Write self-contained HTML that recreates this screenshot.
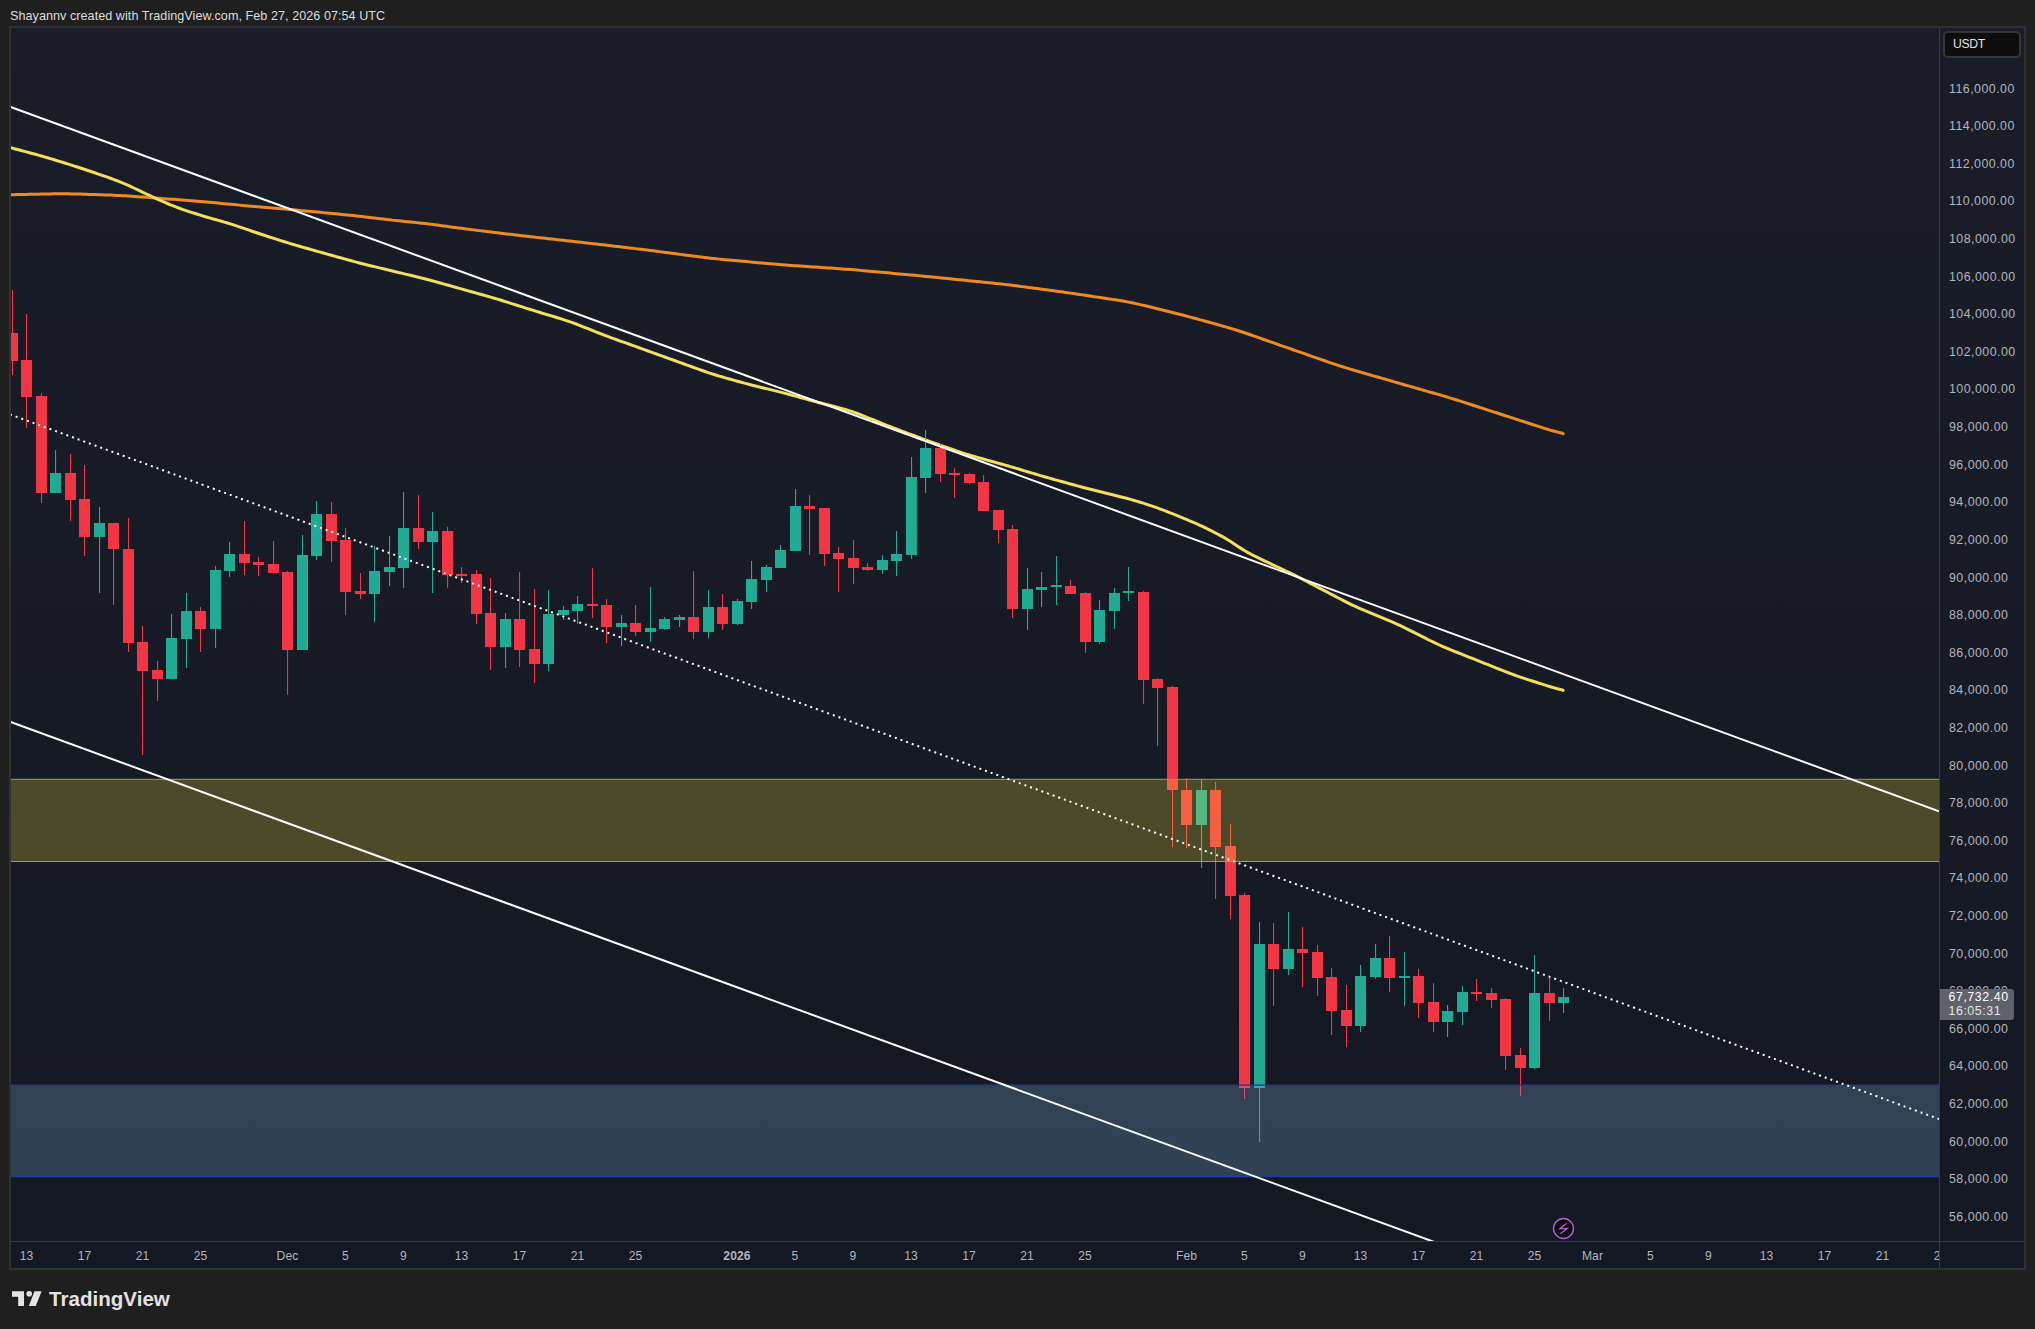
<!DOCTYPE html>
<html><head><meta charset="utf-8">
<style>
html,body{margin:0;padding:0;}
body{width:2035px;height:1329px;background:#1f1f1f;position:relative;overflow:hidden;font-family:"Liberation Sans",sans-serif;}
.hdr{position:absolute;left:10px;top:8px;font-size:12.6px;line-height:16px;color:#dcdcdc;white-space:nowrap;letter-spacing:0.05px;}
.pl{position:absolute;left:1949px;width:70px;height:16px;line-height:16px;font-size:12.4px;color:#b2b5be;white-space:nowrap;letter-spacing:0.47px;}
.tlw{position:absolute;left:0;top:0;width:1939px;height:1329px;overflow:hidden;}
.tl{position:absolute;top:1248px;width:80px;text-align:center;height:16px;line-height:16px;font-size:12.1px;color:#b2b5be;letter-spacing:0.1px;}
.tl.b{font-weight:bold;}
.usdt{position:absolute;left:1943px;top:30.5px;width:78px;height:27px;border:2px solid #34363a;border-radius:5px;background:#0d0d0d;box-sizing:border-box;}
.usdt span{position:absolute;left:8px;top:4.5px;font-size:12.2px;line-height:14px;color:#e4e4e4;letter-spacing:-0.3px;}
.lastp{position:absolute;left:1940px;top:989px;width:74px;height:31px;background:#5f616b;border-radius:0 3px 3px 0;}
.lastp div{position:absolute;left:8.5px;font-size:12.4px;line-height:14px;letter-spacing:0.55px;white-space:nowrap;}
.logo{position:absolute;left:11px;top:1288px;}
.logotxt{position:absolute;left:49px;top:1286px;font-size:20.5px;line-height:26px;font-weight:bold;color:#e3e3e3;letter-spacing:0.04px;}
</style></head>
<body>
<div class="hdr">Shayannv created with TradingView.com, Feb 27, 2026 07:54 UTC</div>
<svg width="2035" height="1329" viewBox="0 0 2035 1329" style="position:absolute;left:0;top:0">
<defs><linearGradient id="bg" x1="0" y1="0" x2="0" y2="1"><stop offset="0" stop-color="#1a1d27"/><stop offset="1" stop-color="#141822"/></linearGradient><clipPath id="pane"><rect x="11" y="28" width="1928.0" height="1213.0"/></clipPath></defs>
<rect x="9" y="26" width="2017" height="1244" fill="#2f3034"/>
<rect x="11" y="28" width="2013" height="1240" fill="url(#bg)"/>
<rect x="1939" y="28" width="1" height="1240" fill="#363a45"/>
<rect x="11" y="1241" width="2013" height="1" fill="#363a45"/>
<g clip-path="url(#pane)">
<path d="M11.4,194.70 L14.4,194.64 L17.4,194.58 L20.4,194.52 L23.4,194.45 L26.4,194.39 L29.4,194.33 L32.4,194.27 L35.4,194.21 L38.4,194.15 L41.4,194.09 L44.4,194.03 L47.4,193.97 L50.4,193.92 L53.4,193.87 L56.4,193.83 L59.4,193.81 L62.4,193.80 L65.4,193.81 L68.4,193.84 L71.4,193.89 L74.4,193.96 L77.4,194.03 L80.4,194.12 L83.4,194.21 L86.4,194.30 L89.4,194.40 L92.4,194.50 L95.4,194.60 L98.4,194.70 L101.4,194.80 L104.4,194.90 L107.4,195.01 L110.4,195.12 L113.4,195.24 L116.4,195.38 L119.4,195.53 L122.4,195.69 L125.4,195.86 L128.4,196.05 L131.4,196.25 L134.4,196.46 L137.4,196.67 L140.4,196.89 L143.4,197.11 L146.4,197.33 L149.4,197.55 L152.4,197.77 L155.4,198.00 L158.4,198.23 L161.4,198.45 L164.4,198.68 L167.4,198.91 L170.4,199.13 L173.4,199.36 L176.4,199.58 L179.4,199.81 L182.4,200.03 L185.4,200.25 L188.4,200.48 L191.4,200.70 L194.4,200.94 L197.4,201.18 L200.4,201.43 L203.4,201.69 L206.4,201.96 L209.4,202.23 L212.4,202.52 L215.4,202.81 L218.4,203.11 L221.4,203.41 L224.4,203.70 L227.4,203.99 L230.4,204.28 L233.4,204.57 L236.4,204.85 L239.4,205.13 L242.4,205.41 L245.4,205.68 L248.4,205.95 L251.4,206.22 L254.4,206.48 L257.4,206.75 L260.4,207.01 L263.4,207.26 L266.4,207.52 L269.4,207.77 L272.4,208.03 L275.4,208.28 L278.4,208.54 L281.4,208.79 L284.4,209.05 L287.4,209.31 L290.4,209.57 L293.4,209.84 L296.4,210.11 L299.4,210.38 L302.4,210.66 L305.4,210.94 L308.4,211.21 L311.4,211.49 L314.4,211.77 L317.4,212.06 L320.4,212.34 L323.4,212.63 L326.4,212.92 L329.4,213.21 L332.4,213.50 L335.4,213.79 L338.4,214.09 L341.4,214.39 L344.4,214.68 L347.4,214.99 L350.4,215.30 L353.4,215.61 L356.4,215.93 L359.4,216.26 L362.4,216.60 L365.4,216.94 L368.4,217.29 L371.4,217.65 L374.4,218.01 L377.4,218.37 L380.4,218.73 L383.4,219.08 L386.4,219.44 L389.4,219.78 L392.4,220.12 L395.4,220.45 L398.4,220.77 L401.4,221.08 L404.4,221.39 L407.4,221.70 L410.4,222.00 L413.4,222.31 L416.4,222.62 L419.4,222.94 L422.4,223.26 L425.4,223.60 L428.4,223.96 L431.4,224.33 L434.4,224.71 L437.4,225.10 L440.4,225.50 L443.4,225.91 L446.4,226.32 L449.4,226.74 L452.4,227.15 L455.4,227.55 L458.4,227.96 L461.4,228.35 L464.4,228.74 L467.4,229.13 L470.4,229.51 L473.4,229.88 L476.4,230.25 L479.4,230.62 L482.4,230.99 L485.4,231.35 L488.4,231.72 L491.4,232.08 L494.4,232.45 L497.4,232.81 L500.4,233.17 L503.4,233.53 L506.4,233.89 L509.4,234.25 L512.4,234.60 L515.4,234.96 L518.4,235.32 L521.4,235.67 L524.4,236.02 L527.4,236.36 L530.4,236.71 L533.4,237.04 L536.4,237.38 L539.4,237.71 L542.4,238.04 L545.4,238.36 L548.4,238.68 L551.4,239.01 L554.4,239.33 L557.4,239.65 L560.4,239.98 L563.4,240.31 L566.4,240.64 L569.4,240.97 L572.4,241.30 L575.4,241.64 L578.4,241.99 L581.4,242.33 L584.4,242.67 L587.4,243.02 L590.4,243.37 L593.4,243.72 L596.4,244.06 L599.4,244.41 L602.4,244.76 L605.4,245.11 L608.4,245.46 L611.4,245.81 L614.4,246.15 L617.4,246.50 L620.4,246.85 L623.4,247.20 L626.4,247.55 L629.4,247.90 L632.4,248.26 L635.4,248.62 L638.4,248.98 L641.4,249.34 L644.4,249.72 L647.4,250.09 L650.4,250.47 L653.4,250.86 L656.4,251.24 L659.4,251.63 L662.4,252.02 L665.4,252.41 L668.4,252.80 L671.4,253.19 L674.4,253.59 L677.4,253.98 L680.4,254.37 L683.4,254.76 L686.4,255.15 L689.4,255.54 L692.4,255.93 L695.4,256.31 L698.4,256.70 L701.4,257.08 L704.4,257.45 L707.4,257.81 L710.4,258.16 L713.4,258.49 L716.4,258.81 L719.4,259.12 L722.4,259.41 L725.4,259.70 L728.4,259.98 L731.4,260.25 L734.4,260.52 L737.4,260.79 L740.4,261.06 L743.4,261.33 L746.4,261.60 L749.4,261.87 L752.4,262.14 L755.4,262.40 L758.4,262.67 L761.4,262.94 L764.4,263.21 L767.4,263.47 L770.4,263.74 L773.4,264.00 L776.4,264.26 L779.4,264.51 L782.4,264.75 L785.4,264.99 L788.4,265.22 L791.4,265.44 L794.4,265.65 L797.4,265.86 L800.4,266.07 L803.4,266.27 L806.4,266.47 L809.4,266.68 L812.4,266.88 L815.4,267.08 L818.4,267.28 L821.4,267.48 L824.4,267.68 L827.4,267.89 L830.4,268.09 L833.4,268.29 L836.4,268.50 L839.4,268.71 L842.4,268.92 L845.4,269.14 L848.4,269.37 L851.4,269.61 L854.4,269.86 L857.4,270.11 L860.4,270.38 L863.4,270.64 L866.4,270.91 L869.4,271.19 L872.4,271.46 L875.4,271.74 L878.4,272.01 L881.4,272.29 L884.4,272.56 L887.4,272.84 L890.4,273.11 L893.4,273.39 L896.4,273.67 L899.4,273.94 L902.4,274.22 L905.4,274.49 L908.4,274.77 L911.4,275.05 L914.4,275.33 L917.4,275.60 L920.4,275.88 L923.4,276.17 L926.4,276.45 L929.4,276.74 L932.4,277.03 L935.4,277.33 L938.4,277.63 L941.4,277.93 L944.4,278.23 L947.4,278.53 L950.4,278.83 L953.4,279.14 L956.4,279.44 L959.4,279.74 L962.4,280.04 L965.4,280.35 L968.4,280.65 L971.4,280.95 L974.4,281.26 L977.4,281.56 L980.4,281.86 L983.4,282.17 L986.4,282.47 L989.4,282.78 L992.4,283.09 L995.4,283.40 L998.4,283.72 L1001.4,284.05 L1004.4,284.38 L1007.4,284.73 L1010.4,285.09 L1013.4,285.46 L1016.4,285.84 L1019.4,286.23 L1022.4,286.62 L1025.4,287.01 L1028.4,287.41 L1031.4,287.81 L1034.4,288.21 L1037.4,288.61 L1040.4,289.00 L1043.4,289.40 L1046.4,289.80 L1049.4,290.20 L1052.4,290.61 L1055.4,291.01 L1058.4,291.42 L1061.4,291.83 L1064.4,292.25 L1067.4,292.68 L1070.4,293.11 L1073.4,293.55 L1076.4,293.99 L1079.4,294.43 L1082.4,294.88 L1085.4,295.33 L1088.4,295.77 L1091.4,296.22 L1094.4,296.67 L1097.4,297.12 L1100.4,297.57 L1103.4,298.02 L1106.4,298.47 L1109.4,298.92 L1112.4,299.38 L1115.4,299.84 L1118.4,300.32 L1121.4,300.82 L1124.4,301.33 L1127.4,301.88 L1130.4,302.46 L1133.4,303.08 L1136.4,303.73 L1139.4,304.41 L1142.4,305.11 L1145.4,305.82 L1148.4,306.55 L1151.4,307.28 L1154.4,308.02 L1157.4,308.76 L1160.4,309.50 L1163.4,310.24 L1166.4,310.99 L1169.4,311.73 L1172.4,312.48 L1175.4,313.24 L1178.4,314.00 L1181.4,314.78 L1184.4,315.56 L1187.4,316.35 L1190.4,317.15 L1193.4,317.96 L1196.4,318.78 L1199.4,319.60 L1202.4,320.42 L1205.4,321.25 L1208.4,322.07 L1211.4,322.90 L1214.4,323.73 L1217.4,324.56 L1220.4,325.39 L1223.4,326.24 L1226.4,327.10 L1229.4,327.97 L1232.4,328.87 L1235.4,329.80 L1238.4,330.75 L1241.4,331.73 L1244.4,332.73 L1247.4,333.75 L1250.4,334.79 L1253.4,335.83 L1256.4,336.88 L1259.4,337.93 L1262.4,338.98 L1265.4,340.03 L1268.4,341.08 L1271.4,342.14 L1274.4,343.19 L1277.4,344.24 L1280.4,345.30 L1283.4,346.35 L1286.4,347.40 L1289.4,348.45 L1292.4,349.50 L1295.4,350.55 L1298.4,351.60 L1301.4,352.65 L1304.4,353.70 L1307.4,354.75 L1310.4,355.80 L1313.4,356.85 L1316.4,357.90 L1319.4,358.95 L1322.4,359.99 L1325.4,361.03 L1328.4,362.07 L1331.4,363.09 L1334.4,364.10 L1337.4,365.09 L1340.4,366.06 L1343.4,367.01 L1346.4,367.94 L1349.4,368.84 L1352.4,369.74 L1355.4,370.62 L1358.4,371.50 L1361.4,372.37 L1364.4,373.23 L1367.4,374.10 L1370.4,374.96 L1373.4,375.83 L1376.4,376.69 L1379.4,377.56 L1382.4,378.42 L1385.4,379.29 L1388.4,380.15 L1391.4,381.02 L1394.4,381.88 L1397.4,382.74 L1400.4,383.60 L1403.4,384.46 L1406.4,385.32 L1409.4,386.18 L1412.4,387.04 L1415.4,387.90 L1418.4,388.76 L1421.4,389.61 L1424.4,390.47 L1427.4,391.33 L1430.4,392.19 L1433.4,393.05 L1436.4,393.91 L1439.4,394.78 L1442.4,395.65 L1445.4,396.54 L1448.4,397.43 L1451.4,398.34 L1454.4,399.27 L1457.4,400.20 L1460.4,401.15 L1463.4,402.11 L1466.4,403.07 L1469.4,404.04 L1472.4,405.01 L1475.4,405.98 L1478.4,406.95 L1481.4,407.92 L1484.4,408.90 L1487.4,409.87 L1490.4,410.84 L1493.4,411.81 L1496.4,412.79 L1499.4,413.76 L1502.4,414.73 L1505.4,415.70 L1508.4,416.68 L1511.4,417.65 L1514.4,418.62 L1517.4,419.59 L1520.4,420.56 L1523.4,421.54 L1526.4,422.51 L1529.4,423.48 L1532.4,424.45 L1535.4,425.42 L1538.4,426.39 L1541.4,427.35 L1544.4,428.31 L1547.4,429.24 L1550.4,430.15 L1553.4,431.01 L1556.4,431.82 L1559.4,432.55 L1562.4,433.19 L1563.1,433.75" fill="none" stroke="#ee8a22" stroke-width="3" stroke-linejoin="round" stroke-linecap="round"/>
<path d="M11.4,147.90 L14.4,148.69 L17.4,149.49 L20.4,150.28 L23.4,151.08 L26.4,151.88 L29.4,152.68 L32.4,153.49 L35.4,154.32 L38.4,155.16 L41.4,156.02 L44.4,156.89 L47.4,157.77 L50.4,158.66 L53.4,159.55 L56.4,160.45 L59.4,161.36 L62.4,162.28 L65.4,163.21 L68.4,164.16 L71.4,165.11 L74.4,166.08 L77.4,167.05 L80.4,168.03 L83.4,169.01 L86.4,170.00 L89.4,171.00 L92.4,172.01 L95.4,173.03 L98.4,174.06 L101.4,175.10 L104.4,176.15 L107.4,177.21 L110.4,178.28 L113.4,179.38 L116.4,180.51 L119.4,181.68 L122.4,182.90 L125.4,184.17 L128.4,185.49 L131.4,186.85 L134.4,188.25 L137.4,189.67 L140.4,191.11 L143.4,192.55 L146.4,193.98 L149.4,195.40 L152.4,196.80 L155.4,198.18 L158.4,199.55 L161.4,200.89 L164.4,202.21 L167.4,203.50 L170.4,204.76 L173.4,205.97 L176.4,207.13 L179.4,208.23 L182.4,209.30 L185.4,210.33 L188.4,211.33 L191.4,212.31 L194.4,213.28 L197.4,214.23 L200.4,215.17 L203.4,216.08 L206.4,216.97 L209.4,217.84 L212.4,218.69 L215.4,219.54 L218.4,220.38 L221.4,221.23 L224.4,222.10 L227.4,223.00 L230.4,223.92 L233.4,224.88 L236.4,225.86 L239.4,226.87 L242.4,227.89 L245.4,228.92 L248.4,229.95 L251.4,230.98 L254.4,232.01 L257.4,233.02 L260.4,234.02 L263.4,235.01 L266.4,235.99 L269.4,236.96 L272.4,237.93 L275.4,238.89 L278.4,239.85 L281.4,240.81 L284.4,241.75 L287.4,242.68 L290.4,243.59 L293.4,244.49 L296.4,245.37 L299.4,246.23 L302.4,247.09 L305.4,247.94 L308.4,248.79 L311.4,249.63 L314.4,250.48 L317.4,251.32 L320.4,252.17 L323.4,253.01 L326.4,253.85 L329.4,254.69 L332.4,255.53 L335.4,256.37 L338.4,257.21 L341.4,258.04 L344.4,258.88 L347.4,259.71 L350.4,260.53 L353.4,261.35 L356.4,262.15 L359.4,262.94 L362.4,263.70 L365.4,264.46 L368.4,265.20 L371.4,265.93 L374.4,266.66 L377.4,267.39 L380.4,268.11 L383.4,268.83 L386.4,269.56 L389.4,270.28 L392.4,271.00 L395.4,271.72 L398.4,272.44 L401.4,273.15 L404.4,273.87 L407.4,274.59 L410.4,275.30 L413.4,276.02 L416.4,276.74 L419.4,277.47 L422.4,278.21 L425.4,278.97 L428.4,279.75 L431.4,280.54 L434.4,281.36 L437.4,282.18 L440.4,283.02 L443.4,283.86 L446.4,284.70 L449.4,285.55 L452.4,286.39 L455.4,287.24 L458.4,288.08 L461.4,288.92 L464.4,289.76 L467.4,290.60 L470.4,291.44 L473.4,292.28 L476.4,293.12 L479.4,293.96 L482.4,294.80 L485.4,295.64 L488.4,296.49 L491.4,297.36 L494.4,298.24 L497.4,299.13 L500.4,300.04 L503.4,300.97 L506.4,301.91 L509.4,302.86 L512.4,303.82 L515.4,304.78 L518.4,305.73 L521.4,306.69 L524.4,307.64 L527.4,308.58 L530.4,309.52 L533.4,310.44 L536.4,311.36 L539.4,312.28 L542.4,313.19 L545.4,314.09 L548.4,315.00 L551.4,315.90 L554.4,316.81 L557.4,317.73 L560.4,318.65 L563.4,319.60 L566.4,320.59 L569.4,321.61 L572.4,322.67 L575.4,323.78 L578.4,324.92 L581.4,326.09 L584.4,327.28 L587.4,328.47 L590.4,329.67 L593.4,330.86 L596.4,332.05 L599.4,333.23 L602.4,334.40 L605.4,335.55 L608.4,336.68 L611.4,337.79 L614.4,338.89 L617.4,339.97 L620.4,341.05 L623.4,342.13 L626.4,343.20 L629.4,344.27 L632.4,345.35 L635.4,346.42 L638.4,347.50 L641.4,348.58 L644.4,349.66 L647.4,350.74 L650.4,351.82 L653.4,352.90 L656.4,353.98 L659.4,355.07 L662.4,356.15 L665.4,357.24 L668.4,358.32 L671.4,359.40 L674.4,360.49 L677.4,361.57 L680.4,362.66 L683.4,363.74 L686.4,364.82 L689.4,365.91 L692.4,366.99 L695.4,368.07 L698.4,369.15 L701.4,370.22 L704.4,371.28 L707.4,372.32 L710.4,373.33 L713.4,374.30 L716.4,375.24 L719.4,376.14 L722.4,377.02 L725.4,377.88 L728.4,378.72 L731.4,379.56 L734.4,380.40 L737.4,381.23 L740.4,382.06 L743.4,382.87 L746.4,383.67 L749.4,384.46 L752.4,385.23 L755.4,385.98 L758.4,386.72 L761.4,387.45 L764.4,388.18 L767.4,388.91 L770.4,389.63 L773.4,390.36 L776.4,391.10 L779.4,391.85 L782.4,392.61 L785.4,393.39 L788.4,394.18 L791.4,394.99 L794.4,395.82 L797.4,396.65 L800.4,397.48 L803.4,398.32 L806.4,399.16 L809.4,399.99 L812.4,400.82 L815.4,401.64 L818.4,402.44 L821.4,403.24 L824.4,404.02 L827.4,404.78 L830.4,405.54 L833.4,406.30 L836.4,407.06 L839.4,407.83 L842.4,408.64 L845.4,409.49 L848.4,410.40 L851.4,411.38 L854.4,412.42 L857.4,413.53 L860.4,414.69 L863.4,415.87 L866.4,417.08 L869.4,418.29 L872.4,419.51 L875.4,420.72 L878.4,421.94 L881.4,423.15 L884.4,424.34 L887.4,425.53 L890.4,426.71 L893.4,427.86 L896.4,429.01 L899.4,430.15 L902.4,431.28 L905.4,432.41 L908.4,433.54 L911.4,434.66 L914.4,435.78 L917.4,436.90 L920.4,438.02 L923.4,439.13 L926.4,440.23 L929.4,441.32 L932.4,442.40 L935.4,443.47 L938.4,444.53 L941.4,445.59 L944.4,446.64 L947.4,447.69 L950.4,448.74 L953.4,449.78 L956.4,450.82 L959.4,451.85 L962.4,452.85 L965.4,453.82 L968.4,454.76 L971.4,455.67 L974.4,456.55 L977.4,457.41 L980.4,458.24 L983.4,459.07 L986.4,459.90 L989.4,460.72 L992.4,461.54 L995.4,462.37 L998.4,463.20 L1001.4,464.04 L1004.4,464.89 L1007.4,465.75 L1010.4,466.62 L1013.4,467.50 L1016.4,468.39 L1019.4,469.29 L1022.4,470.19 L1025.4,471.09 L1028.4,471.99 L1031.4,472.89 L1034.4,473.79 L1037.4,474.68 L1040.4,475.57 L1043.4,476.45 L1046.4,477.31 L1049.4,478.17 L1052.4,479.01 L1055.4,479.84 L1058.4,480.67 L1061.4,481.49 L1064.4,482.32 L1067.4,483.14 L1070.4,483.96 L1073.4,484.77 L1076.4,485.58 L1079.4,486.39 L1082.4,487.18 L1085.4,487.97 L1088.4,488.74 L1091.4,489.50 L1094.4,490.25 L1097.4,490.99 L1100.4,491.73 L1103.4,492.47 L1106.4,493.20 L1109.4,493.94 L1112.4,494.68 L1115.4,495.42 L1118.4,496.17 L1121.4,496.93 L1124.4,497.70 L1127.4,498.50 L1130.4,499.33 L1133.4,500.20 L1136.4,501.09 L1139.4,502.00 L1142.4,502.94 L1145.4,503.89 L1148.4,504.87 L1151.4,505.87 L1154.4,506.90 L1157.4,507.96 L1160.4,509.07 L1163.4,510.20 L1166.4,511.36 L1169.4,512.54 L1172.4,513.73 L1175.4,514.92 L1178.4,516.12 L1181.4,517.33 L1184.4,518.54 L1187.4,519.77 L1190.4,521.03 L1193.4,522.32 L1196.4,523.66 L1199.4,525.04 L1202.4,526.47 L1205.4,527.93 L1208.4,529.41 L1211.4,530.91 L1214.4,532.43 L1217.4,533.97 L1220.4,535.55 L1223.4,537.19 L1226.4,538.91 L1229.4,540.74 L1232.4,542.66 L1235.4,544.65 L1238.4,546.66 L1241.4,548.62 L1244.4,550.49 L1247.4,552.26 L1250.4,553.91 L1253.4,555.46 L1256.4,556.96 L1259.4,558.42 L1262.4,559.85 L1265.4,561.28 L1268.4,562.71 L1271.4,564.13 L1274.4,565.55 L1277.4,566.98 L1280.4,568.40 L1283.4,569.83 L1286.4,571.27 L1289.4,572.71 L1292.4,574.18 L1295.4,575.66 L1298.4,577.16 L1301.4,578.68 L1304.4,580.23 L1307.4,581.78 L1310.4,583.34 L1313.4,584.91 L1316.4,586.48 L1319.4,588.05 L1322.4,589.62 L1325.4,591.19 L1328.4,592.76 L1331.4,594.32 L1334.4,595.89 L1337.4,597.46 L1340.4,599.02 L1343.4,600.57 L1346.4,602.09 L1349.4,603.59 L1352.4,605.04 L1355.4,606.45 L1358.4,607.81 L1361.4,609.12 L1364.4,610.41 L1367.4,611.68 L1370.4,612.93 L1373.4,614.18 L1376.4,615.42 L1379.4,616.67 L1382.4,617.91 L1385.4,619.16 L1388.4,620.42 L1391.4,621.69 L1394.4,622.99 L1397.4,624.32 L1400.4,625.70 L1403.4,627.12 L1406.4,628.58 L1409.4,630.07 L1412.4,631.58 L1415.4,633.11 L1418.4,634.64 L1421.4,636.17 L1424.4,637.70 L1427.4,639.22 L1430.4,640.72 L1433.4,642.19 L1436.4,643.61 L1439.4,644.99 L1442.4,646.32 L1445.4,647.60 L1448.4,648.85 L1451.4,650.07 L1454.4,651.28 L1457.4,652.49 L1460.4,653.69 L1463.4,654.89 L1466.4,656.08 L1469.4,657.28 L1472.4,658.48 L1475.4,659.68 L1478.4,660.87 L1481.4,662.07 L1484.4,663.27 L1487.4,664.46 L1490.4,665.66 L1493.4,666.85 L1496.4,668.05 L1499.4,669.24 L1502.4,670.43 L1505.4,671.60 L1508.4,672.76 L1511.4,673.90 L1514.4,675.00 L1517.4,676.07 L1520.4,677.11 L1523.4,678.11 L1526.4,679.10 L1529.4,680.08 L1532.4,681.05 L1535.4,682.01 L1538.4,682.97 L1541.4,683.94 L1544.4,684.89 L1547.4,685.84 L1550.4,686.77 L1553.4,687.67 L1556.4,688.50 L1559.4,689.25 L1562.4,689.90 L1563.1,690.44" fill="none" stroke="#f2df5e" stroke-width="3" stroke-linejoin="round" stroke-linecap="round"/>
<rect x="12" y="290.0" width="1.1" height="43.0" fill="#f23645"/>
<rect x="12" y="361.0" width="1.1" height="14.0" fill="#f23645"/>
<rect x="7" y="333.0" width="11" height="28.0" fill="#f23645"/>
<rect x="26" y="314.0" width="1.1" height="46.0" fill="#f23645"/>
<rect x="26" y="397.0" width="1.1" height="31.0" fill="#f23645"/>
<rect x="21" y="360.0" width="11" height="37.0" fill="#f23645"/>
<rect x="41" y="393.0" width="1.1" height="3.0" fill="#f23645"/>
<rect x="41" y="493.0" width="1.1" height="10.0" fill="#f23645"/>
<rect x="36" y="396.0" width="11" height="97.0" fill="#f23645"/>
<rect x="55" y="450.0" width="1.1" height="23.0" fill="#22ab94"/>
<rect x="50" y="473.0" width="11" height="20.0" fill="#22ab94"/>
<rect x="70" y="454.0" width="1.1" height="19.0" fill="#f23645"/>
<rect x="70" y="500.0" width="1.1" height="21.0" fill="#f23645"/>
<rect x="65" y="473.0" width="11" height="27.0" fill="#f23645"/>
<rect x="84" y="465.0" width="1.1" height="34.0" fill="#f23645"/>
<rect x="84" y="537.0" width="1.1" height="19.0" fill="#f23645"/>
<rect x="79" y="499.0" width="11" height="38.0" fill="#f23645"/>
<rect x="99" y="507.0" width="1.1" height="16.0" fill="#22ab94"/>
<rect x="99" y="537.0" width="1.1" height="56.0" fill="#22ab94"/>
<rect x="94" y="523.0" width="11" height="14.0" fill="#22ab94"/>
<rect x="113" y="549.0" width="1.1" height="56.0" fill="#f23645"/>
<rect x="108" y="523.0" width="11" height="26.0" fill="#f23645"/>
<rect x="128" y="518.0" width="1.1" height="31.0" fill="#f23645"/>
<rect x="128" y="643.0" width="1.1" height="9.0" fill="#f23645"/>
<rect x="123" y="549.0" width="11" height="94.0" fill="#f23645"/>
<rect x="142" y="626.0" width="1.1" height="16.0" fill="#f23645"/>
<rect x="142" y="671.0" width="1.1" height="84.0" fill="#f23645"/>
<rect x="137" y="642.0" width="11" height="29.0" fill="#f23645"/>
<rect x="157" y="661.0" width="1.1" height="9.0" fill="#f23645"/>
<rect x="157" y="679.0" width="1.1" height="22.0" fill="#f23645"/>
<rect x="152" y="670.0" width="11" height="9.0" fill="#f23645"/>
<rect x="171" y="614.0" width="1.1" height="24.0" fill="#22ab94"/>
<rect x="166" y="638.0" width="11" height="41.0" fill="#22ab94"/>
<rect x="186" y="593.0" width="1.1" height="18.0" fill="#22ab94"/>
<rect x="186" y="639.0" width="1.1" height="29.0" fill="#22ab94"/>
<rect x="181" y="611.0" width="11" height="28.0" fill="#22ab94"/>
<rect x="200" y="607.0" width="1.1" height="4.0" fill="#f23645"/>
<rect x="200" y="629.0" width="1.1" height="23.0" fill="#f23645"/>
<rect x="195" y="611.0" width="11" height="18.0" fill="#f23645"/>
<rect x="215" y="566.0" width="1.1" height="4.0" fill="#22ab94"/>
<rect x="215" y="629.0" width="1.1" height="19.0" fill="#22ab94"/>
<rect x="210" y="570.0" width="11" height="59.0" fill="#22ab94"/>
<rect x="229" y="542.0" width="1.1" height="12.0" fill="#22ab94"/>
<rect x="229" y="571.0" width="1.1" height="6.0" fill="#22ab94"/>
<rect x="224" y="554.0" width="11" height="17.0" fill="#22ab94"/>
<rect x="244" y="521.0" width="1.1" height="33.0" fill="#f23645"/>
<rect x="244" y="563.0" width="1.1" height="12.0" fill="#f23645"/>
<rect x="239" y="554.0" width="11" height="9.0" fill="#f23645"/>
<rect x="258" y="557.0" width="1.1" height="5.0" fill="#f23645"/>
<rect x="258" y="565.0" width="1.1" height="11.0" fill="#f23645"/>
<rect x="253" y="562.0" width="11" height="3.0" fill="#f23645"/>
<rect x="273" y="541.0" width="1.1" height="23.0" fill="#f23645"/>
<rect x="268" y="564.0" width="11" height="9.0" fill="#f23645"/>
<rect x="287" y="571.0" width="1.1" height="1.0" fill="#f23645"/>
<rect x="287" y="650.0" width="1.1" height="45.0" fill="#f23645"/>
<rect x="282" y="572.0" width="11" height="78.0" fill="#f23645"/>
<rect x="302" y="535.0" width="1.1" height="20.0" fill="#22ab94"/>
<rect x="297" y="555.0" width="11" height="95.0" fill="#22ab94"/>
<rect x="316" y="501.0" width="1.1" height="13.0" fill="#22ab94"/>
<rect x="316" y="556.0" width="1.1" height="4.0" fill="#22ab94"/>
<rect x="311" y="514.0" width="11" height="42.0" fill="#22ab94"/>
<rect x="331" y="502.0" width="1.1" height="12.0" fill="#f23645"/>
<rect x="331" y="541.0" width="1.1" height="21.0" fill="#f23645"/>
<rect x="326" y="514.0" width="11" height="27.0" fill="#f23645"/>
<rect x="345" y="528.0" width="1.1" height="12.0" fill="#f23645"/>
<rect x="345" y="592.0" width="1.1" height="23.0" fill="#f23645"/>
<rect x="340" y="540.0" width="11" height="52.0" fill="#f23645"/>
<rect x="360" y="573.0" width="1.1" height="18.0" fill="#f23645"/>
<rect x="360" y="594.0" width="1.1" height="5.0" fill="#f23645"/>
<rect x="355" y="591.0" width="11" height="3.0" fill="#f23645"/>
<rect x="374" y="546.0" width="1.1" height="25.0" fill="#22ab94"/>
<rect x="374" y="594.0" width="1.1" height="28.0" fill="#22ab94"/>
<rect x="369" y="571.0" width="11" height="23.0" fill="#22ab94"/>
<rect x="389" y="536.0" width="1.1" height="31.0" fill="#22ab94"/>
<rect x="389" y="572.0" width="1.1" height="14.0" fill="#22ab94"/>
<rect x="384" y="567.0" width="11" height="5.0" fill="#22ab94"/>
<rect x="403" y="492.0" width="1.1" height="36.0" fill="#22ab94"/>
<rect x="403" y="568.0" width="1.1" height="20.0" fill="#22ab94"/>
<rect x="398" y="528.0" width="11" height="40.0" fill="#22ab94"/>
<rect x="418" y="495.0" width="1.1" height="33.0" fill="#f23645"/>
<rect x="418" y="542.0" width="1.1" height="7.0" fill="#f23645"/>
<rect x="413" y="528.0" width="11" height="14.0" fill="#f23645"/>
<rect x="432" y="512.0" width="1.1" height="19.0" fill="#22ab94"/>
<rect x="432" y="542.0" width="1.1" height="51.0" fill="#22ab94"/>
<rect x="427" y="531.0" width="11" height="11.0" fill="#22ab94"/>
<rect x="447" y="527.0" width="1.1" height="4.0" fill="#f23645"/>
<rect x="447" y="575.0" width="1.1" height="13.0" fill="#f23645"/>
<rect x="442" y="531.0" width="11" height="44.0" fill="#f23645"/>
<rect x="461" y="567.0" width="1.1" height="7.0" fill="#f23645"/>
<rect x="461" y="576.0" width="1.1" height="7.0" fill="#f23645"/>
<rect x="456" y="574.0" width="11" height="2.0" fill="#f23645"/>
<rect x="476" y="570.0" width="1.1" height="4.0" fill="#f23645"/>
<rect x="476" y="614.0" width="1.1" height="10.0" fill="#f23645"/>
<rect x="471" y="574.0" width="11" height="40.0" fill="#f23645"/>
<rect x="490" y="578.0" width="1.1" height="35.0" fill="#f23645"/>
<rect x="490" y="647.0" width="1.1" height="23.0" fill="#f23645"/>
<rect x="485" y="613.0" width="11" height="34.0" fill="#f23645"/>
<rect x="505" y="613.0" width="1.1" height="6.0" fill="#22ab94"/>
<rect x="505" y="647.0" width="1.1" height="21.0" fill="#22ab94"/>
<rect x="500" y="619.0" width="11" height="28.0" fill="#22ab94"/>
<rect x="519" y="572.0" width="1.1" height="47.0" fill="#f23645"/>
<rect x="519" y="650.0" width="1.1" height="17.0" fill="#f23645"/>
<rect x="514" y="619.0" width="11" height="31.0" fill="#f23645"/>
<rect x="534" y="589.0" width="1.1" height="60.0" fill="#f23645"/>
<rect x="534" y="664.0" width="1.1" height="19.0" fill="#f23645"/>
<rect x="529" y="649.0" width="11" height="15.0" fill="#f23645"/>
<rect x="548" y="590.0" width="1.1" height="24.0" fill="#22ab94"/>
<rect x="548" y="664.0" width="1.1" height="7.0" fill="#22ab94"/>
<rect x="543" y="614.0" width="11" height="50.0" fill="#22ab94"/>
<rect x="563" y="606.0" width="1.1" height="4.0" fill="#22ab94"/>
<rect x="563" y="615.0" width="1.1" height="5.0" fill="#22ab94"/>
<rect x="558" y="610.0" width="11" height="5.0" fill="#22ab94"/>
<rect x="577" y="596.0" width="1.1" height="8.0" fill="#22ab94"/>
<rect x="577" y="611.0" width="1.1" height="13.0" fill="#22ab94"/>
<rect x="572" y="604.0" width="11" height="7.0" fill="#22ab94"/>
<rect x="592" y="568.0" width="1.1" height="36.0" fill="#f23645"/>
<rect x="592" y="606.0" width="1.1" height="12.0" fill="#f23645"/>
<rect x="587" y="604.0" width="11" height="2.0" fill="#f23645"/>
<rect x="606" y="599.0" width="1.1" height="6.0" fill="#f23645"/>
<rect x="606" y="627.0" width="1.1" height="16.0" fill="#f23645"/>
<rect x="601" y="605.0" width="11" height="22.0" fill="#f23645"/>
<rect x="621" y="615.0" width="1.1" height="8.0" fill="#22ab94"/>
<rect x="621" y="627.0" width="1.1" height="19.0" fill="#22ab94"/>
<rect x="616" y="623.0" width="11" height="4.0" fill="#22ab94"/>
<rect x="635" y="605.0" width="1.1" height="18.0" fill="#f23645"/>
<rect x="635" y="632.0" width="1.1" height="4.0" fill="#f23645"/>
<rect x="630" y="623.0" width="11" height="9.0" fill="#f23645"/>
<rect x="650" y="587.0" width="1.1" height="41.0" fill="#22ab94"/>
<rect x="650" y="632.0" width="1.1" height="10.0" fill="#22ab94"/>
<rect x="645" y="628.0" width="11" height="4.0" fill="#22ab94"/>
<rect x="664" y="617.0" width="1.1" height="2.0" fill="#22ab94"/>
<rect x="664" y="629.0" width="1.1" height="1.0" fill="#22ab94"/>
<rect x="659" y="619.0" width="11" height="10.0" fill="#22ab94"/>
<rect x="679" y="615.0" width="1.1" height="2.0" fill="#22ab94"/>
<rect x="679" y="620.0" width="1.1" height="7.0" fill="#22ab94"/>
<rect x="674" y="617.0" width="11" height="3.0" fill="#22ab94"/>
<rect x="693" y="571.0" width="1.1" height="46.0" fill="#f23645"/>
<rect x="693" y="632.0" width="1.1" height="7.0" fill="#f23645"/>
<rect x="688" y="617.0" width="11" height="15.0" fill="#f23645"/>
<rect x="708" y="590.0" width="1.1" height="17.0" fill="#22ab94"/>
<rect x="708" y="632.0" width="1.1" height="6.0" fill="#22ab94"/>
<rect x="703" y="607.0" width="11" height="25.0" fill="#22ab94"/>
<rect x="722" y="594.0" width="1.1" height="13.0" fill="#f23645"/>
<rect x="722" y="624.0" width="1.1" height="6.0" fill="#f23645"/>
<rect x="717" y="607.0" width="11" height="17.0" fill="#f23645"/>
<rect x="737" y="599.0" width="1.1" height="2.0" fill="#22ab94"/>
<rect x="737" y="624.0" width="1.1" height="1.0" fill="#22ab94"/>
<rect x="732" y="601.0" width="11" height="23.0" fill="#22ab94"/>
<rect x="751" y="561.0" width="1.1" height="18.0" fill="#22ab94"/>
<rect x="751" y="602.0" width="1.1" height="7.0" fill="#22ab94"/>
<rect x="746" y="579.0" width="11" height="23.0" fill="#22ab94"/>
<rect x="766" y="565.0" width="1.1" height="2.0" fill="#22ab94"/>
<rect x="766" y="580.0" width="1.1" height="12.0" fill="#22ab94"/>
<rect x="761" y="567.0" width="11" height="13.0" fill="#22ab94"/>
<rect x="780" y="545.0" width="1.1" height="5.0" fill="#22ab94"/>
<rect x="775" y="550.0" width="11" height="18.0" fill="#22ab94"/>
<rect x="795" y="489.0" width="1.1" height="17.0" fill="#22ab94"/>
<rect x="790" y="506.0" width="11" height="45.0" fill="#22ab94"/>
<rect x="809" y="495.0" width="1.1" height="11.0" fill="#f23645"/>
<rect x="809" y="509.0" width="1.1" height="46.0" fill="#f23645"/>
<rect x="804" y="506.0" width="11" height="3.0" fill="#f23645"/>
<rect x="824" y="554.0" width="1.1" height="12.0" fill="#f23645"/>
<rect x="819" y="508.0" width="11" height="46.0" fill="#f23645"/>
<rect x="838" y="547.0" width="1.1" height="6.0" fill="#f23645"/>
<rect x="838" y="559.0" width="1.1" height="33.0" fill="#f23645"/>
<rect x="833" y="553.0" width="11" height="6.0" fill="#f23645"/>
<rect x="853" y="540.0" width="1.1" height="18.0" fill="#f23645"/>
<rect x="853" y="568.0" width="1.1" height="16.0" fill="#f23645"/>
<rect x="848" y="558.0" width="11" height="10.0" fill="#f23645"/>
<rect x="867" y="563.0" width="1.1" height="4.0" fill="#f23645"/>
<rect x="867" y="570.0" width="1.1" height="1.0" fill="#f23645"/>
<rect x="862" y="567.0" width="11" height="3.0" fill="#f23645"/>
<rect x="882" y="555.0" width="1.1" height="5.0" fill="#22ab94"/>
<rect x="882" y="570.0" width="1.1" height="4.0" fill="#22ab94"/>
<rect x="877" y="560.0" width="11" height="10.0" fill="#22ab94"/>
<rect x="896" y="531.0" width="1.1" height="23.0" fill="#22ab94"/>
<rect x="896" y="561.0" width="1.1" height="15.0" fill="#22ab94"/>
<rect x="891" y="554.0" width="11" height="7.0" fill="#22ab94"/>
<rect x="911" y="457.0" width="1.1" height="20.0" fill="#22ab94"/>
<rect x="911" y="555.0" width="1.1" height="4.0" fill="#22ab94"/>
<rect x="906" y="477.0" width="11" height="78.0" fill="#22ab94"/>
<rect x="925" y="430.0" width="1.1" height="18.0" fill="#22ab94"/>
<rect x="925" y="478.0" width="1.1" height="15.0" fill="#22ab94"/>
<rect x="920" y="448.0" width="11" height="30.0" fill="#22ab94"/>
<rect x="940" y="444.0" width="1.1" height="4.0" fill="#f23645"/>
<rect x="940" y="474.0" width="1.1" height="8.0" fill="#f23645"/>
<rect x="935" y="448.0" width="11" height="26.0" fill="#f23645"/>
<rect x="954" y="468.0" width="1.1" height="5.0" fill="#f23645"/>
<rect x="954" y="475.0" width="1.1" height="23.0" fill="#f23645"/>
<rect x="949" y="473.0" width="11" height="2.0" fill="#f23645"/>
<rect x="969" y="473.0" width="1.1" height="1.0" fill="#f23645"/>
<rect x="969" y="483.0" width="1.1" height="1.0" fill="#f23645"/>
<rect x="964" y="474.0" width="11" height="9.0" fill="#f23645"/>
<rect x="983" y="475.0" width="1.1" height="7.0" fill="#f23645"/>
<rect x="978" y="482.0" width="11" height="29.0" fill="#f23645"/>
<rect x="998" y="530.0" width="1.1" height="13.0" fill="#f23645"/>
<rect x="993" y="510.0" width="11" height="20.0" fill="#f23645"/>
<rect x="1012" y="525.0" width="1.1" height="4.0" fill="#f23645"/>
<rect x="1012" y="609.0" width="1.1" height="9.0" fill="#f23645"/>
<rect x="1007" y="529.0" width="11" height="80.0" fill="#f23645"/>
<rect x="1027" y="568.0" width="1.1" height="21.0" fill="#22ab94"/>
<rect x="1027" y="609.0" width="1.1" height="21.0" fill="#22ab94"/>
<rect x="1022" y="589.0" width="11" height="20.0" fill="#22ab94"/>
<rect x="1041" y="572.0" width="1.1" height="15.0" fill="#22ab94"/>
<rect x="1041" y="590.0" width="1.1" height="17.0" fill="#22ab94"/>
<rect x="1036" y="587.0" width="11" height="3.0" fill="#22ab94"/>
<rect x="1056" y="556.0" width="1.1" height="29.0" fill="#22ab94"/>
<rect x="1056" y="587.0" width="1.1" height="18.0" fill="#22ab94"/>
<rect x="1051" y="585.0" width="11" height="2.0" fill="#22ab94"/>
<rect x="1070" y="580.0" width="1.1" height="6.0" fill="#f23645"/>
<rect x="1065" y="586.0" width="11" height="8.0" fill="#f23645"/>
<rect x="1085" y="592.0" width="1.1" height="1.0" fill="#f23645"/>
<rect x="1085" y="642.0" width="1.1" height="11.0" fill="#f23645"/>
<rect x="1080" y="593.0" width="11" height="49.0" fill="#f23645"/>
<rect x="1099" y="600.0" width="1.1" height="10.0" fill="#22ab94"/>
<rect x="1099" y="642.0" width="1.1" height="2.0" fill="#22ab94"/>
<rect x="1094" y="610.0" width="11" height="32.0" fill="#22ab94"/>
<rect x="1114" y="588.0" width="1.1" height="5.0" fill="#22ab94"/>
<rect x="1114" y="611.0" width="1.1" height="18.0" fill="#22ab94"/>
<rect x="1109" y="593.0" width="11" height="18.0" fill="#22ab94"/>
<rect x="1128" y="567.0" width="1.1" height="24.0" fill="#22ab94"/>
<rect x="1128" y="593.0" width="1.1" height="8.0" fill="#22ab94"/>
<rect x="1123" y="591.0" width="11" height="2.0" fill="#22ab94"/>
<rect x="1143" y="591.0" width="1.1" height="1.0" fill="#f23645"/>
<rect x="1143" y="680.0" width="1.1" height="24.0" fill="#f23645"/>
<rect x="1138" y="592.0" width="11" height="88.0" fill="#f23645"/>
<rect x="1157" y="678.0" width="1.1" height="1.0" fill="#f23645"/>
<rect x="1157" y="688.0" width="1.1" height="58.0" fill="#f23645"/>
<rect x="1152" y="679.0" width="11" height="9.0" fill="#f23645"/>
<rect x="1172" y="686.0" width="1.1" height="1.0" fill="#f23645"/>
<rect x="1172" y="790.0" width="1.1" height="57.0" fill="#f23645"/>
<rect x="1167" y="687.0" width="11" height="103.0" fill="#f23645"/>
<rect x="1186" y="778.0" width="1.1" height="12.0" fill="#f23645"/>
<rect x="1186" y="825.0" width="1.1" height="23.0" fill="#f23645"/>
<rect x="1181" y="790.0" width="11" height="35.0" fill="#f23645"/>
<rect x="1201" y="779.0" width="1.1" height="11.0" fill="#22ab94"/>
<rect x="1201" y="825.0" width="1.1" height="43.0" fill="#22ab94"/>
<rect x="1196" y="790.0" width="11" height="35.0" fill="#22ab94"/>
<rect x="1215" y="782.0" width="1.1" height="8.0" fill="#f23645"/>
<rect x="1215" y="847.0" width="1.1" height="52.0" fill="#f23645"/>
<rect x="1210" y="790.0" width="11" height="57.0" fill="#f23645"/>
<rect x="1230" y="824.0" width="1.1" height="22.0" fill="#f23645"/>
<rect x="1230" y="896.0" width="1.1" height="23.0" fill="#f23645"/>
<rect x="1225" y="846.0" width="11" height="50.0" fill="#f23645"/>
<rect x="1244" y="893.0" width="1.1" height="2.0" fill="#f23645"/>
<rect x="1244" y="1088.0" width="1.1" height="11.0" fill="#f23645"/>
<rect x="1239" y="895.0" width="11" height="193.0" fill="#f23645"/>
<rect x="1259" y="922.0" width="1.1" height="22.0" fill="#22ab94"/>
<rect x="1259" y="1088.0" width="1.1" height="54.0" fill="#22ab94"/>
<rect x="1254" y="944.0" width="11" height="144.0" fill="#22ab94"/>
<rect x="1273" y="923.0" width="1.1" height="21.0" fill="#f23645"/>
<rect x="1273" y="969.0" width="1.1" height="37.0" fill="#f23645"/>
<rect x="1268" y="944.0" width="11" height="25.0" fill="#f23645"/>
<rect x="1288" y="912.0" width="1.1" height="37.0" fill="#22ab94"/>
<rect x="1288" y="969.0" width="1.1" height="6.0" fill="#22ab94"/>
<rect x="1283" y="949.0" width="11" height="20.0" fill="#22ab94"/>
<rect x="1302" y="927.0" width="1.1" height="22.0" fill="#f23645"/>
<rect x="1302" y="953.0" width="1.1" height="34.0" fill="#f23645"/>
<rect x="1297" y="949.0" width="11" height="4.0" fill="#f23645"/>
<rect x="1317" y="945.0" width="1.1" height="7.0" fill="#f23645"/>
<rect x="1317" y="978.0" width="1.1" height="18.0" fill="#f23645"/>
<rect x="1312" y="952.0" width="11" height="26.0" fill="#f23645"/>
<rect x="1331" y="968.0" width="1.1" height="9.0" fill="#f23645"/>
<rect x="1331" y="1011.0" width="1.1" height="24.0" fill="#f23645"/>
<rect x="1326" y="977.0" width="11" height="34.0" fill="#f23645"/>
<rect x="1346" y="985.0" width="1.1" height="25.0" fill="#f23645"/>
<rect x="1346" y="1026.0" width="1.1" height="21.0" fill="#f23645"/>
<rect x="1341" y="1010.0" width="11" height="16.0" fill="#f23645"/>
<rect x="1360" y="965.0" width="1.1" height="11.0" fill="#22ab94"/>
<rect x="1360" y="1026.0" width="1.1" height="6.0" fill="#22ab94"/>
<rect x="1355" y="976.0" width="11" height="50.0" fill="#22ab94"/>
<rect x="1375" y="944.0" width="1.1" height="14.0" fill="#22ab94"/>
<rect x="1375" y="977.0" width="1.1" height="2.0" fill="#22ab94"/>
<rect x="1370" y="958.0" width="11" height="19.0" fill="#22ab94"/>
<rect x="1389" y="936.0" width="1.1" height="22.0" fill="#f23645"/>
<rect x="1389" y="978.0" width="1.1" height="14.0" fill="#f23645"/>
<rect x="1384" y="958.0" width="11" height="20.0" fill="#f23645"/>
<rect x="1404" y="952.0" width="1.1" height="24.0" fill="#22ab94"/>
<rect x="1404" y="978.0" width="1.1" height="28.0" fill="#22ab94"/>
<rect x="1399" y="976.0" width="11" height="2.0" fill="#22ab94"/>
<rect x="1418" y="969.0" width="1.1" height="7.0" fill="#f23645"/>
<rect x="1418" y="1003.0" width="1.1" height="15.0" fill="#f23645"/>
<rect x="1413" y="976.0" width="11" height="27.0" fill="#f23645"/>
<rect x="1433" y="983.0" width="1.1" height="19.0" fill="#f23645"/>
<rect x="1433" y="1022.0" width="1.1" height="10.0" fill="#f23645"/>
<rect x="1428" y="1002.0" width="11" height="20.0" fill="#f23645"/>
<rect x="1447" y="1005.0" width="1.1" height="6.0" fill="#22ab94"/>
<rect x="1447" y="1022.0" width="1.1" height="15.0" fill="#22ab94"/>
<rect x="1442" y="1011.0" width="11" height="11.0" fill="#22ab94"/>
<rect x="1462" y="986.0" width="1.1" height="6.0" fill="#22ab94"/>
<rect x="1462" y="1012.0" width="1.1" height="13.0" fill="#22ab94"/>
<rect x="1457" y="992.0" width="11" height="20.0" fill="#22ab94"/>
<rect x="1476" y="979.0" width="1.1" height="13.0" fill="#f23645"/>
<rect x="1476" y="994.0" width="1.1" height="7.0" fill="#f23645"/>
<rect x="1471" y="992.0" width="11" height="2.0" fill="#f23645"/>
<rect x="1491" y="988.0" width="1.1" height="5.0" fill="#f23645"/>
<rect x="1491" y="1000.0" width="1.1" height="8.0" fill="#f23645"/>
<rect x="1486" y="993.0" width="11" height="7.0" fill="#f23645"/>
<rect x="1505" y="998.0" width="1.1" height="1.0" fill="#f23645"/>
<rect x="1505" y="1056.0" width="1.1" height="14.0" fill="#f23645"/>
<rect x="1500" y="999.0" width="11" height="57.0" fill="#f23645"/>
<rect x="1520" y="1048.0" width="1.1" height="7.0" fill="#f23645"/>
<rect x="1520" y="1068.0" width="1.1" height="28.0" fill="#f23645"/>
<rect x="1515" y="1055.0" width="11" height="13.0" fill="#f23645"/>
<rect x="1534" y="955.0" width="1.1" height="38.0" fill="#22ab94"/>
<rect x="1534" y="1068.0" width="1.1" height="1.0" fill="#22ab94"/>
<rect x="1529" y="993.0" width="11" height="75.0" fill="#22ab94"/>
<rect x="1549" y="976.0" width="1.1" height="17.0" fill="#f23645"/>
<rect x="1549" y="1003.0" width="1.1" height="18.0" fill="#f23645"/>
<rect x="1544" y="993.0" width="11" height="10.0" fill="#f23645"/>
<rect x="1563" y="988.0" width="1.1" height="9.0" fill="#22ab94"/>
<rect x="1563" y="1003.0" width="1.1" height="10.0" fill="#22ab94"/>
<rect x="1558" y="997.0" width="11" height="6.0" fill="#22ab94"/>
<rect x="11" y="779" width="1928.0" height="82" fill="rgba(255,235,59,0.23)"/>
<rect x="11" y="778.8" width="1928.0" height="1" fill="#a09a5a"/>
<rect x="11" y="861" width="1928.0" height="1" fill="#a09a5a"/>
<rect x="11" y="1085" width="1928.0" height="91" fill="rgba(122,159,209,0.3)"/>
<rect x="11" y="1084.5" width="1928.0" height="1.3" fill="#1f3a8f"/>
<rect x="11" y="1176" width="1928.0" height="1.3" fill="#1f3a8f"/>
<line x1="10" y1="721.8" x2="1939" y2="1426.3" stroke="#ffffff" stroke-width="2"/>
<line x1="10" y1="106.8" x2="1939" y2="811.3" stroke="#ffffff" stroke-width="2"/>
<line x1="10" y1="414.4" x2="1939" y2="1119" stroke="#ffffff" stroke-width="2" stroke-dasharray="2 4"/>
<circle cx="1563.5" cy="1228.5" r="10" fill="#0e0e12" stroke="#b35fcc" stroke-width="1.4"/>
<path d="M1566.8 1223.2 L1560 1228.6 L1567.3 1228.4 L1560.4 1233.8" fill="none" stroke="#b35fcc" stroke-width="1.3" stroke-linejoin="miter"/>
</g>
</svg>
<div class="pl" style="top:80.5px">116,000.00</div>
<div class="pl" style="top:118.1px">114,000.00</div>
<div class="pl" style="top:155.7px">112,000.00</div>
<div class="pl" style="top:193.3px">110,000.00</div>
<div class="pl" style="top:230.9px">108,000.00</div>
<div class="pl" style="top:268.6px">106,000.00</div>
<div class="pl" style="top:306.2px">104,000.00</div>
<div class="pl" style="top:343.8px">102,000.00</div>
<div class="pl" style="top:381.4px">100,000.00</div>
<div class="pl" style="top:419.0px">98,000.00</div>
<div class="pl" style="top:456.6px">96,000.00</div>
<div class="pl" style="top:494.2px">94,000.00</div>
<div class="pl" style="top:531.8px">92,000.00</div>
<div class="pl" style="top:569.5px">90,000.00</div>
<div class="pl" style="top:607.1px">88,000.00</div>
<div class="pl" style="top:644.7px">86,000.00</div>
<div class="pl" style="top:682.3px">84,000.00</div>
<div class="pl" style="top:719.9px">82,000.00</div>
<div class="pl" style="top:757.5px">80,000.00</div>
<div class="pl" style="top:795.1px">78,000.00</div>
<div class="pl" style="top:832.7px">76,000.00</div>
<div class="pl" style="top:870.4px">74,000.00</div>
<div class="pl" style="top:908.0px">72,000.00</div>
<div class="pl" style="top:945.6px">70,000.00</div>
<div class="pl" style="top:983.2px">68,000.00</div>
<div class="pl" style="top:1020.8px">66,000.00</div>
<div class="pl" style="top:1058.4px">64,000.00</div>
<div class="pl" style="top:1096.0px">62,000.00</div>
<div class="pl" style="top:1133.6px">60,000.00</div>
<div class="pl" style="top:1171.2px">58,000.00</div>
<div class="pl" style="top:1208.9px">56,000.00</div>
<div class="tlw">
<div class="tl" style="left:-13.5px">13</div>
<div class="tl" style="left:44.5px">17</div>
<div class="tl" style="left:102.5px">21</div>
<div class="tl" style="left:160.5px">25</div>
<div class="tl" style="left:247.5px">Dec</div>
<div class="tl" style="left:305.5px">5</div>
<div class="tl" style="left:363.5px">9</div>
<div class="tl" style="left:421.5px">13</div>
<div class="tl" style="left:479.5px">17</div>
<div class="tl" style="left:537.5px">21</div>
<div class="tl" style="left:595.5px">25</div>
<div class="tl b" style="left:697.0px">2026</div>
<div class="tl" style="left:755.0px">5</div>
<div class="tl" style="left:813.0px">9</div>
<div class="tl" style="left:871.0px">13</div>
<div class="tl" style="left:929.0px">17</div>
<div class="tl" style="left:987.0px">21</div>
<div class="tl" style="left:1045.0px">25</div>
<div class="tl" style="left:1146.5px">Feb</div>
<div class="tl" style="left:1204.5px">5</div>
<div class="tl" style="left:1262.5px">9</div>
<div class="tl" style="left:1320.5px">13</div>
<div class="tl" style="left:1378.5px">17</div>
<div class="tl" style="left:1436.5px">21</div>
<div class="tl" style="left:1494.5px">25</div>
<div class="tl" style="left:1552.5px">Mar</div>
<div class="tl" style="left:1610.5px">5</div>
<div class="tl" style="left:1668.5px">9</div>
<div class="tl" style="left:1726.5px">13</div>
<div class="tl" style="left:1784.5px">17</div>
<div class="tl" style="left:1842.5px">21</div>
<div class="tl" style="left:1900.5px">25</div>
</div>
<div class="usdt"><span>USDT</span></div>
<div class="lastp"><div style="top:1.3px;color:#ffffff">67,732.40</div><div style="top:15.3px;color:#e6e6e6">16:05:31</div></div>
<svg class="logo" width="34" height="20" viewBox="0 0 34 20">
<path d="M1 3.2 H13 V18 H7.2 V8.7 H1 Z" fill="#e3e3e3"/>
<circle cx="18.2" cy="5.8" r="2.8" fill="#e3e3e3"/>
<path d="M23.5 3.2 H30.6 L24.8 18 H17.8 Z" fill="#e3e3e3"/>
</svg>
<div class="logotxt">TradingView</div>
</body></html>
